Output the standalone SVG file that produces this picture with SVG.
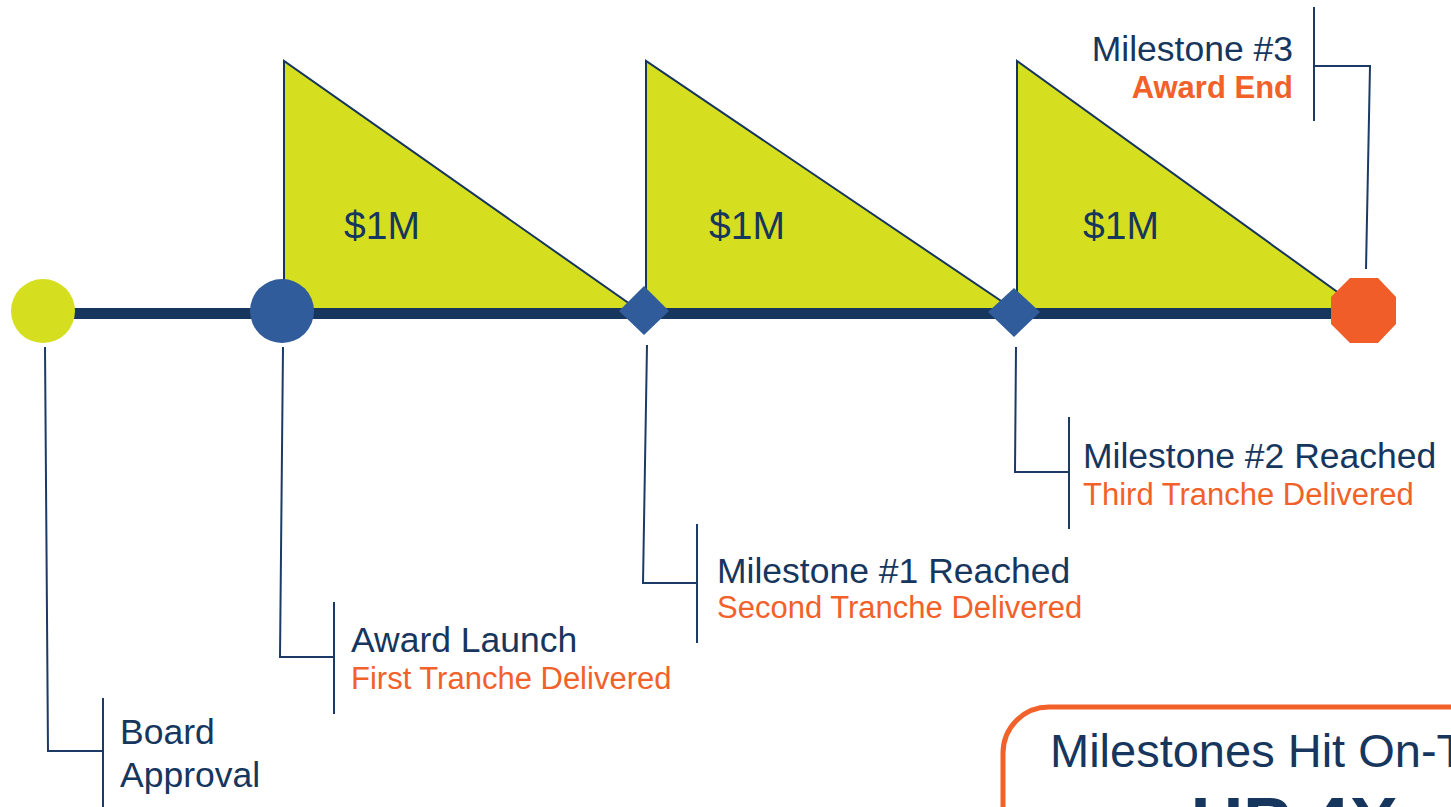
<svg xmlns="http://www.w3.org/2000/svg" width="1451" height="807" viewBox="0 0 1451 807">
<style>
.lead{fill:none;stroke:#1B3A66;stroke-width:2}
.tri{fill:#D5DF20;stroke:#17365D;stroke-width:2;stroke-linejoin:miter}
.t{font-family:"Liberation Sans",Arial,sans-serif;fill:#17365D;font-size:35.5px}
.o{font-family:"Liberation Sans",Arial,sans-serif;fill:#F26129;font-size:31px}
.m{font-family:"Liberation Sans",Arial,sans-serif;fill:#17365D;font-size:39px}
</style>
<rect width="1451" height="807" fill="#FFFFFF"/>
<g id="tranches">
<polygon class="tri" points="284,61 284,309 637,309"/>
<polygon class="tri" points="646,61 646,309 1013,309"/>
<polygon class="tri" points="1017,61 1017,309 1361,309"/>
<text class="m" x="344" y="239">$1M</text>
<text class="m" x="709" y="239">$1M</text>
<text class="m" x="1083" y="239">$1M</text>
</g>
<g id="connectors">
<rect x="60" y="308" width="1300" height="11" fill="#17365D"/>
<polyline class="lead" points="45,347 48,751 103,751"/>
<line class="lead" x1="103" y1="698" x2="103" y2="807"/>
<polyline class="lead" points="283,347 280,657 334,657"/>
<line class="lead" x1="334" y1="602" x2="334" y2="714"/>
<polyline class="lead" points="647,345 643,583 697,583"/>
<line class="lead" x1="697" y1="524" x2="697" y2="643"/>
<polyline class="lead" points="1016,347 1015,472 1069,472"/>
<line class="lead" x1="1069" y1="417" x2="1069" y2="529"/>
<polyline class="lead" points="1366,269 1370,66 1314,66"/>
<line class="lead" x1="1314" y1="7" x2="1314" y2="121"/>
</g>
<g id="board-approval">
<circle cx="43" cy="311" r="32" fill="#D5DF20"/>
<text class="t" x="120" y="744">Board</text>
<text class="t" x="120" y="787">Approval</text>
</g>
<g id="award-launch">
<circle cx="282" cy="311" r="32" fill="#315C9C"/>
<text class="t" x="351" y="652">Award Launch</text>
<text class="o" x="351" y="689">First Tranche Delivered</text>
</g>
<g id="milestone-1">
<polygon points="644,286 669,311 644,335 619,311" fill="#315C9C"/>
<text class="t" x="717" y="583">Milestone #1 Reached</text>
<text class="o" x="717" y="618">Second Tranche Delivered</text>
</g>
<g id="milestone-2">
<polygon points="1014,288 1040,312 1014,337 988,312" fill="#315C9C"/>
<text class="t" x="1083" y="468">Milestone #2 Reached</text>
<text class="o" x="1083" y="505">Third Tranche Delivered</text>
</g>
<g id="milestone-3">
<polygon points="1350,278 1378,278 1396,297 1396,324 1378,343 1350,343 1331,324 1331,297" fill="#F15D29"/>
<text class="t" x="1293" y="61" text-anchor="end">Milestone #3</text>
<text class="o" x="1293" y="98" text-anchor="end" font-weight="bold">Award End</text>
</g>
<g id="summary-box">
<rect x="1003" y="707" width="520" height="200" rx="46" ry="46" fill="#FFFFFF" stroke="#F26129" stroke-width="5"/>
<text x="1050" y="767" font-family="'Liberation Sans',Arial,sans-serif" font-size="47" fill="#17365D">Milestones Hit On-T</text>
<text x="1191" y="848" font-family="'Liberation Sans',Arial,sans-serif" font-size="72" font-weight="bold" fill="#17365D">UP 4X</text>
</g>
</svg>
